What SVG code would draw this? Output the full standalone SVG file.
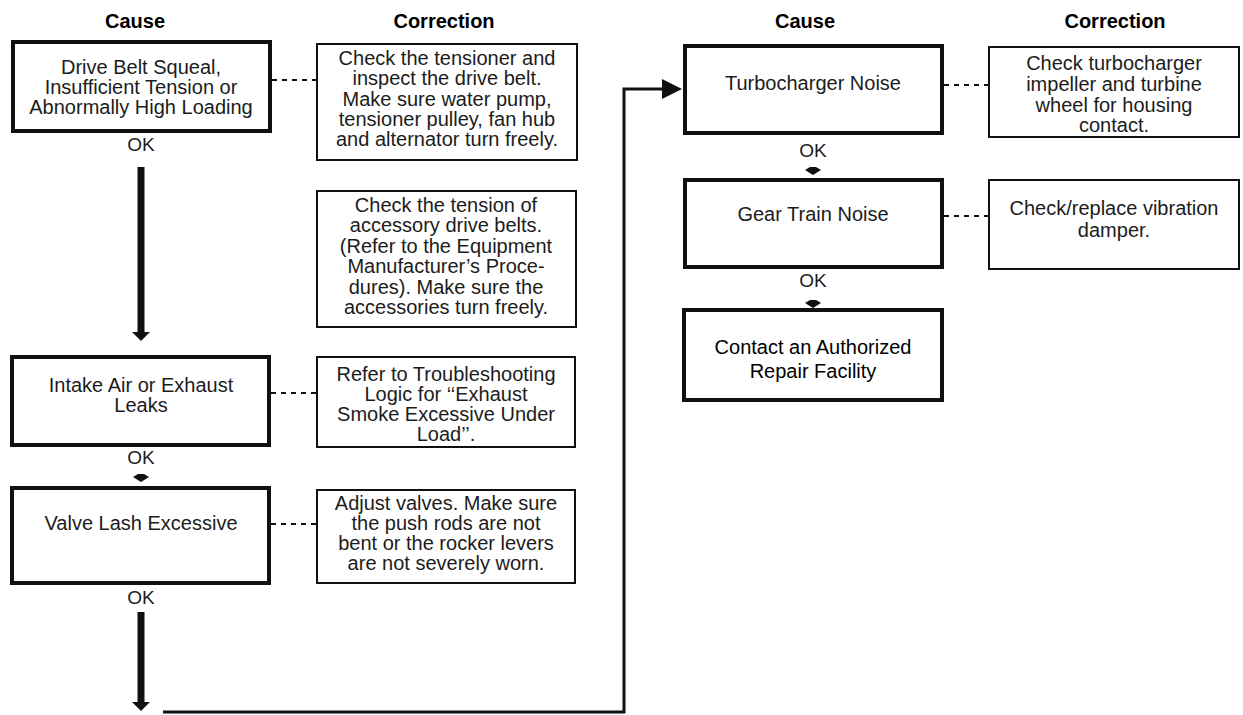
<svg xmlns="http://www.w3.org/2000/svg" width="1243" height="715" viewBox="0 0 1243 715">
<style>
.hdr{font-family:"Liberation Sans",Arial,sans-serif;font-weight:bold;font-size:20px;fill:#000;text-anchor:middle}
.t{font-family:"Liberation Sans",Arial,sans-serif;font-size:20px;fill:#1c1c1c;text-anchor:middle}
.ct{font-family:"Liberation Sans",Arial,sans-serif;font-size:20px;fill:#000;text-anchor:middle}
.ok{font-family:"Liberation Sans",Arial,sans-serif;font-size:19px;fill:#1c1c1c;text-anchor:middle}
.cause{fill:#fff;stroke:#111;stroke-width:4}
.corr{fill:#fff;stroke:#111;stroke-width:2}
.dash{stroke:#111;stroke-width:2;stroke-dasharray:5 5;fill:none}
.flow{stroke:#111;fill:none}
.head{fill:#111}
</style>
<rect width="1243" height="715" fill="#fff"/>
<g id="headers">
<text class="hdr" x="135" y="28">Cause</text>
<text class="hdr" x="444" y="28">Correction</text>
<text class="hdr" x="805" y="28">Cause</text>
<text class="hdr" x="1115" y="28">Correction</text>
</g>
<g id="connectors">
<line class="dash" x1="272" y1="80" x2="317" y2="80"/>
<line class="dash" x1="271" y1="393" x2="317" y2="393"/>
<line class="dash" x1="271" y1="524" x2="317" y2="524"/>
<line class="dash" x1="944" y1="85" x2="989" y2="85"/>
<line class="dash" x1="944" y1="216" x2="989" y2="216"/>
<line class="flow" x1="141" y1="167" x2="141" y2="335" stroke-width="7"/>
<polygon class="head" points="132,332 150,332 141,341"/>
<text class="ok" x="141" y="151">OK</text>
<polygon class="head" points="138,474 144,474 149,477 141,482 133,477"/>
<text class="ok" x="141" y="464">OK</text>
<text class="ok" x="141" y="604">OK</text>
<line class="flow" x1="141" y1="612" x2="141" y2="705" stroke-width="7"/>
<polygon class="head" points="132,702 150,702 141,711"/>
<polyline class="flow" stroke-width="3" points="163,712 624,712 624,89 664,89"/>
<polygon class="head" points="662,79 682,89 662,99"/>
<text class="ok" x="813" y="157">OK</text>
<polygon class="head" points="810,167 816,167 821,170 813,175 805,170"/>
<text class="ok" x="813" y="287">OK</text>
<polygon class="head" points="810,300 816,300 821,303 813,308 805,303"/>
</g>
<g id="n1">
<rect class="cause" x="13" y="42" width="257" height="89"/>
<text class="t" x="141" y="74">Drive Belt Squeal,</text>
<text class="t" x="141" y="94">Insufficient Tension or</text>
<text class="t" x="141" y="114">Abnormally High Loading</text>
</g>
<g id="c1">
<rect class="corr" x="317" y="44" width="260" height="116"/>
<text class="t" x="447" y="65">Check the tensioner and</text>
<text class="t" x="447" y="85">inspect the drive belt.</text>
<text class="t" x="447" y="106">Make sure water pump,</text>
<text class="t" x="447" y="126">tensioner pulley, fan hub</text>
<text class="t" x="447" y="146">and alternator turn freely.</text>
</g>
<g id="c2">
<rect class="corr" x="317" y="191" width="259" height="136"/>
<text class="t" x="446" y="212">Check the tension of</text>
<text class="t" x="446" y="232">accessory drive belts.</text>
<text class="t" x="446" y="253">(Refer to the Equipment</text>
<text class="t" x="446" y="273">Manufacturer’s Proce-</text>
<text class="t" x="446" y="294">dures). Make sure the</text>
<text class="t" x="446" y="314">accessories turn freely.</text>
</g>
<g id="n2">
<rect class="cause" x="12" y="357" width="257" height="88"/>
<text class="t" x="141" y="392">Intake Air or Exhaust</text>
<text class="t" x="141" y="412">Leaks</text>
</g>
<g id="c3">
<rect class="corr" x="317" y="357" width="258" height="90"/>
<text class="t" x="446" y="381">Refer to Troubleshooting</text>
<text class="t" x="446" y="401">Logic for ‘‘Exhaust</text>
<text class="t" x="446" y="421">Smoke Excessive Under</text>
<text class="t" x="446" y="441">Load’’.</text>
</g>
<g id="n3">
<rect class="cause" x="12" y="488" width="257" height="95"/>
<text class="t" x="141" y="530">Valve Lash Excessive</text>
</g>
<g id="c4">
<rect class="corr" x="317" y="490" width="258" height="93"/>
<text class="t" x="446" y="510">Adjust valves. Make sure</text>
<text class="t" x="446" y="530">the push rods are not</text>
<text class="t" x="446" y="550">bent or the rocker levers</text>
<text class="t" x="446" y="570">are not severely worn.</text>
</g>
<g id="n4">
<rect class="cause" x="685" y="46" width="257" height="87"/>
<text class="t" x="813" y="90">Turbocharger Noise</text>
</g>
<g id="c5">
<rect class="corr" x="989" y="47" width="250" height="90"/>
<text class="t" x="1114" y="70">Check turbocharger</text>
<text class="t" x="1114" y="91">impeller and turbine</text>
<text class="t" x="1114" y="112">wheel for housing</text>
<text class="t" x="1114" y="132">contact.</text>
</g>
<g id="n5">
<rect class="cause" x="685" y="180" width="257" height="87"/>
<text class="t" x="813" y="221">Gear Train Noise</text>
</g>
<g id="c6">
<rect class="corr" x="989" y="180" width="250" height="89"/>
<text class="t" x="1114" y="215">Check/replace vibration</text>
<text class="t" x="1114" y="237">damper.</text>
</g>
<g id="n6">
<rect class="cause" x="684" y="310" width="258" height="90" stroke="#000" stroke-width="5"/>
<text class="ct" x="813" y="354">Contact an Authorized</text>
<text class="ct" x="813" y="378">Repair Facility</text>
</g>
</svg>
